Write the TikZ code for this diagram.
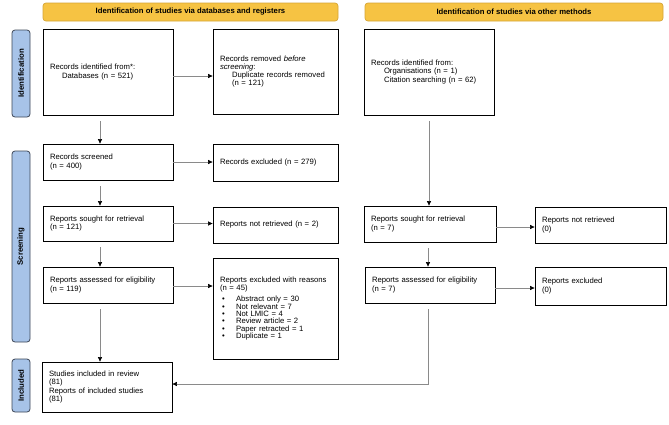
\documentclass[tikz,border=0pt]{standalone}
\usepackage{fontspec}
\setmainfont{Liberation Sans}
\usetikzlibrary{arrows.meta}
\definecolor{hdrfill}{HTML}{F6C343}
\definecolor{hdrline}{HTML}{D6A536}
\definecolor{sidefill}{HTML}{A7C3E8}
\definecolor{sideline}{HTML}{3E4757}
\definecolor{conncol}{HTML}{8A8A8A}
\tikzset{
  box/.style={draw=black, line width=0.8pt, inner xsep=7pt, inner ysep=0pt, align=left, anchor=center},
  hdr/.style={draw=hdrline, fill=hdrfill, line width=0.7pt, rounded corners=3pt, inner sep=0pt,
              font=\fontsize{7.7}{8}\selectfont\bfseries},
  side/.style={draw=sideline, fill=sidefill, line width=0.8pt, rounded corners=3pt, inner sep=0pt,
               rotate=90, minimum height=18pt, font=\fontsize{7.8}{8}\selectfont\bfseries},
  conn/.style={draw=conncol, line width=0.6pt, -{Triangle[length=4.5pt,width=4pt,color=black]}},
  connv/.style={conn, shorten <=6pt},
}
\newcommand\prbox[6]{%
  \pgfmathsetmacro\prW{#4-#2}\pgfmathsetmacro\prH{#5-#3}\pgfmathsetmacro\prT{#4-#2-14}%
  \node[box,minimum width=\prW pt,minimum height=\prH pt,text width=\prT pt] (#1) at ({(#2+#4)/2},{(#3+#5)/2}) {#6};}
\newcommand\hdrbox[6]{%
  \pgfmathsetmacro\prW{#4-#2}\pgfmathsetmacro\prH{#5-#3}%
  \node[hdr,minimum width=\prW pt,minimum height=\prH pt] (#1) at ({(#2+#4)/2},{(#3+#5)/2}) {#6};}
\newcommand\sidebox[6]{%
  \pgfmathsetmacro\prH{#5-#3}%
  \node[side,minimum width=\prH pt] (#1) at ({(#2+#4)/2},{(#3+#5)/2}) {#6};}
\newcommand\bul{\hspace*{2pt}\makebox[14pt][l]{\textbullet}}
\begin{document}
\begin{tikzpicture}[x=1pt,y=-1pt,font=\fontsize{7.7}{8.1}\selectfont]
\useasboundingbox[fill=white] (0,0) rectangle (669,424);
% headers
\hdrbox{hdrA}{43}{3}{338}{21}{Identification of studies via databases and registers}
\hdrbox{hdrB}{365}{3}{663}{21}{Identification of studies via other methods}
% side bars
\sidebox{sideA}{12}{30}{30}{117}{Identification}
\sidebox{sideB}{12}{151}{30}{342}{Screening}
\sidebox{sideC}{12}{359}{30}{412}{Included}
% left column
\prbox{idDB}{43}{29}{173}{115}{Records identified from*:\\\hspace*{12pt}Databases (n = 521)}
\prbox{removed}{213}{29}{338}{114}{Records removed \emph{before}\\\emph{screening}:\\\hspace*{12pt}Duplicate records removed\\\hspace*{12pt}(n = 121)}
\prbox{screened}{43}{144}{173}{180}{Records screened\\(n = 400)}
\prbox{excl}{213}{144}{338}{181}{Records excluded (n = 279)}
\prbox{sought}{43}{206}{173}{241}{Reports sought for retrieval\\(n = 121)}
\prbox{notret}{213}{207}{338}{243}{Reports not retrieved (n = 2)}
\prbox{assessed}{43}{267}{173}{303}{Reports assessed for eligibility\\(n = 119)}
\prbox{exclR}{213}{258}{338}{359}{Reports excluded with reasons\\(n = 45)\\[3pt]
  \bul Abstract only = 30\\[-0.8pt]
  \bul Not relevant = 7\\[-0.8pt]
  \bul Not LMIC = 4\\[-0.8pt]
  \bul Review article = 2\\[-0.8pt]
  \bul Paper retracted = 1\\[-0.8pt]
  \bul Duplicate = 1}
\prbox{incl}{42}{362}{172}{412}{Studies included in review\\(81)\\Reports of included studies\\(81)}
% right column
\prbox{idOther}{364}{29}{494}{115}{Records identified from:\\\hspace*{13pt}Organisations (n = 1)\\\hspace*{13pt}Citation searching (n = 62)}
\prbox{soughtO}{364}{206}{496}{242}{Reports sought for retrieval\\(n = 7)}
\prbox{notretO}{535}{207}{666}{243}{Reports not retrieved\\(0)}
\prbox{assessedO}{365}{267}{495}{303}{Reports assessed for eligibility\\(n = 7)}
\prbox{exclO}{535}{267}{666}{305}{Reports excluded\\(0)}
% connectors left
\draw[connv] ([xshift=-8pt]idDB.south) -- ([xshift=-8pt]screened.north);
\draw[conn] ([yshift=-4pt]idDB.east) -- ([yshift=-4pt]removed.west |- idDB.east);
\draw[conn] (screened.east) -- (excl.west |- screened.east);
\draw[connv] ([xshift=-8pt]screened.south) -- ([xshift=-8pt]sought.north);
\draw[conn] (sought.east) -- (notret.west |- sought.east);
\draw[connv] ([xshift=-8pt]sought.south) -- ([xshift=-8pt]assessed.north);
\draw[conn] ([yshift=-1pt]assessed.east) -- ([yshift=-1pt]exclR.west |- assessed.east);
\draw[connv] ([xshift=-8pt]assessed.south) -- ([xshift=-7pt]incl.north);
% connectors right
\draw[connv] (idOther.south) -- (soughtO.north -| idOther.south);
\draw[conn] ([yshift=-3pt]soughtO.east) -- ([yshift=-3pt]notretO.west |- soughtO.east);
\draw[connv] ([xshift=-2pt]soughtO.south) -- ([xshift=-2pt]soughtO.south |- assessedO.north);
\draw[conn] ([yshift=-3pt]assessedO.east) -- ([yshift=-3pt]exclO.west |- assessedO.east);
\draw[connv] ([xshift=-2pt]assessedO.south) |- ([yshift=3pt]incl.east);
\end{tikzpicture}
\end{document}
